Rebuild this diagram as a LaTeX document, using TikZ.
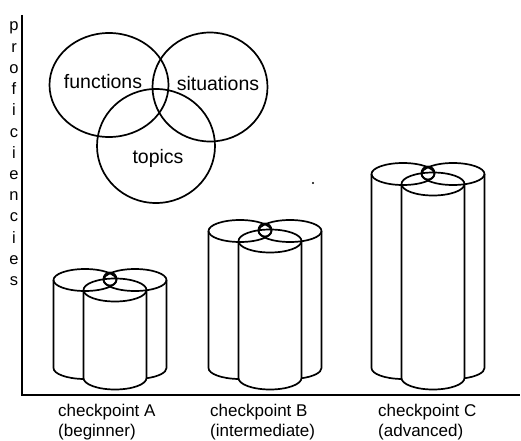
\documentclass[tikz,border=0pt]{standalone}
\usepackage{fontspec}
\setmainfont{Liberation Sans}
\begin{document}
\begin{tikzpicture}[x=1pt,y=1pt,
  ln/.style={line width=1.7pt, black},
  venntext/.style={font=\fontsize{19.5}{22}\selectfont, inner sep=0pt, anchor=base},
  axtext/.style={font=\fontsize{17}{20}\selectfont, inner sep=0pt, anchor=base west},
  lettertext/.style={font=\fontsize{16.5}{18}\selectfont, inner sep=0pt, anchor=base}]
\useasboundingbox (0,0) rectangle (521,440);
\fill[white] (0,0) rectangle (521,440);

% axes
\coordinate (top) at (22,425);
\coordinate (origin) at (22,45);
\coordinate (right) at (520,45);
\draw[ln] (top) -- (origin) -- (right);

% vertical axis label
\foreach \l [count=\i from 0] in {p,r,o,f,i,c,i,e,n,c,i,e,s}
  \node[lettertext] (let\i) at (14,{440-31-21.2*\i}) {\l};

% Venn diagram
\draw[ln] (109,355) ellipse [x radius=59.5pt, y radius=52pt];
\draw[ln] (210,353) ellipse [x radius=57.5pt, y radius=54.5pt];
\draw[ln] (156,294) ellipse [x radius=59pt, y radius=57pt];
\node[venntext] (fun) at (103,{440-88}) {functions};
\node[venntext] (sit) at (218,{440-91}) {situations};
\node[venntext] (top) at (158,{440-163}) {topics};

% stray mark
\fill (313,257) circle [radius=1.1pt];

% cylinder groups: #1 = middle x, #2 = y of back top ellipse centres
\newcommand\cylgroup[2]{%
  \draw[ln] ({#1-25},#2) ellipse [x radius=31.5pt, y radius=11pt];
  \draw[ln] ({#1+25},#2) ellipse [x radius=31.5pt, y radius=11pt];
  \draw[ln] ({#1+5},{#2-10}) ellipse [x radius=31.5pt, y radius=11.5pt];
  \draw[ln] (#1,{#2+1}) circle [radius=6.5pt];
  \draw[ln] ({#1-56.5},#2) -- ({#1-56.5},72)
     arc[start angle=180, end angle=267.3, x radius=31.5pt, y radius=11pt];
  \draw[ln] ({#1+56.5},#2) -- ({#1+56.5},72)
     arc[start angle=0, end angle=-68.6, x radius=31.5pt, y radius=11pt];
  \draw[ln] ({#1-26.5},{#2-10}) -- ({#1-26.5},62)
     arc[start angle=180, end angle=360, x radius=31.5pt, y radius=11.5pt]
     -- ({#1+36.5},{#2-10});
}
\cylgroup{110}{160}
\cylgroup{265}{209}
\cylgroup{428}{266}

% checkpoint labels
\node[axtext] (a1) at (58,{440-416}) {checkpoint A};
\node[axtext] (a2) at (58,{440-436}) {(beginner)};
\node[axtext] (b1) at (210,{440-416}) {checkpoint B};
\node[axtext] (b2) at (210,{440-436}) {(intermediate)};
\node[axtext] (c1) at (378,{440-416}) {checkpoint C};
\node[axtext] (c2) at (378,{440-436}) {(advanced)};
\end{tikzpicture}
\end{document}
